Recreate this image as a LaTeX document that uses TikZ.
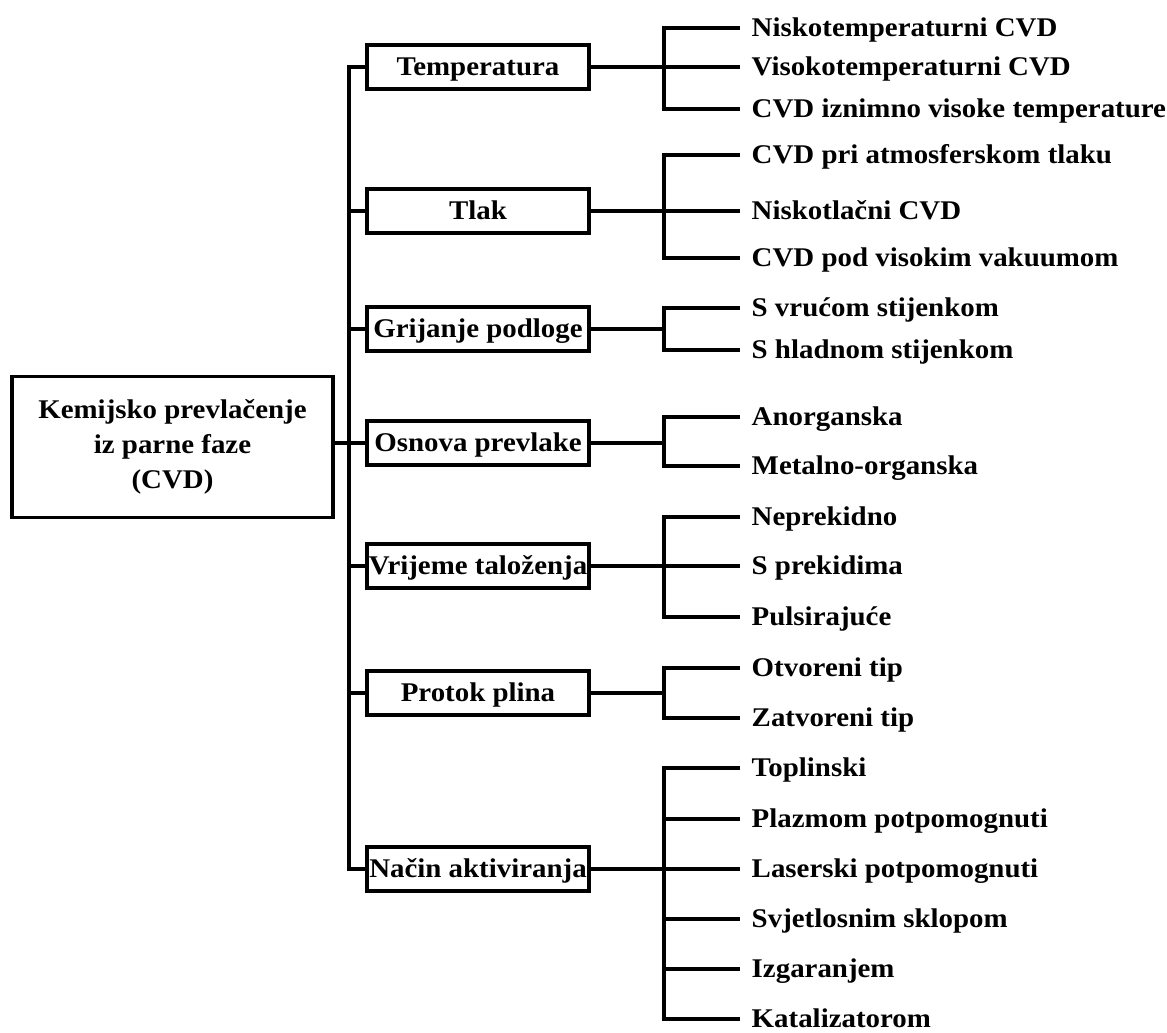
\documentclass[tikz,border=0pt]{standalone}
\usepackage{fontspec}
\setmainfont{Liberation Serif}[FakeStretch=1.07]
\newcommand{\cvdfont}{\fontsize{20.25}{26}\selectfont\bfseries}
\begin{document}
\begin{tikzpicture}[x=0.75pt,y=-0.75pt,line width=2.6pt,line join=miter,
    root/.style={draw, rectangle, minimum width=240.75pt, minimum height=105.75pt, align=center, font=\cvdfont},
    cat/.style={draw, rectangle, minimum width=166.5pt, minimum height=33pt, inner xsep=0pt, font=\cvdfont, text height=15.2pt, text depth=3pt},
    leaf/.style={anchor=west, inner xsep=7.5pt, inner ysep=0pt, font=\cvdfont, text height=15.2pt, text depth=3pt}]
    \useasboundingbox (0,0) rectangle (1167,1032);

    \node[root] (root) at (172.5,447) {Kemijsko prevlačenje\\iz parne faze\\(CVD)};

    \node[cat] (temp) at (478,67) {Temperatura};
    \node[cat] (tlak) at (478,211) {Tlak};
    \node[cat] (grij) at (478,329) {Grijanje podloge};
    \node[cat] (osn) at (478,443) {Osnova prevlake};
    \node[cat] (vrij) at (478,566) {Vrijeme taloženja};
    \node[cat] (prot) at (478,693) {Protok plina};
    \node[cat] (nac) at (478,869) {Način aktiviranja};

    \coordinate (tr) at (349,0);
    \coordinate (br) at (664,0);

    % trunk
    \draw (temp.west) -- (temp.west -| tr) -- (nac.west -| tr) -- (nac.west);
    \draw (osn.west -| root.east) -- (osn.west);
    \draw (tlak.west -| tr) -- (tlak.west);
    \draw (grij.west -| tr) -- (grij.west);
    \draw (vrij.west -| tr) -- (vrij.west);
    \draw (prot.west -| tr) -- (prot.west);

    % temperatura
    \node[leaf] (te1) at (740,28) {Niskotemperaturni CVD};
    \node[leaf] (te2) at (740,67) {Visokotemperaturni CVD};
    \node[leaf] (te3) at (740,109) {CVD iznimno visoke temperature};
    \draw (temp.east) -- (te2.west);
    \draw (te1.west) -- (te1.west -| br) -- (te3.west -| br) -- (te3.west);

    % tlak
    \node[leaf] (tl1) at (740,155) {CVD pri atmosferskom tlaku};
    \node[leaf] (tl2) at (740,211) {Niskotlačni CVD};
    \node[leaf] (tl3) at (740,258) {CVD pod visokim vakuumom};
    \draw (tlak.east) -- (tl2.west);
    \draw (tl1.west) -- (tl1.west -| br) -- (tl3.west -| br) -- (tl3.west);

    % grijanje
    \node[leaf] (gr1) at (740,308) {S vrućom stijenkom};
    \node[leaf] (gr2) at (740,350) {S hladnom stijenkom};
    \draw (grij.east) -- (grij.east -| br);
    \draw (gr1.west) -- (gr1.west -| br) -- (gr2.west -| br) -- (gr2.west);

    % osnova
    \node[leaf] (os1) at (740,417) {Anorganska};
    \node[leaf] (os2) at (740,466) {Metalno-organska};
    \draw (osn.east) -- (osn.east -| br);
    \draw (os1.west) -- (os1.west -| br) -- (os2.west -| br) -- (os2.west);

    % vrijeme
    \node[leaf] (vr1) at (740,517) {Neprekidno};
    \node[leaf] (vr2) at (740,566) {S prekidima};
    \node[leaf] (vr3) at (740,617) {Pulsirajuće};
    \draw (vrij.east) -- (vr2.west);
    \draw (vr1.west) -- (vr1.west -| br) -- (vr3.west -| br) -- (vr3.west);

    % protok
    \node[leaf] (pr1) at (740,668) {Otvoreni tip};
    \node[leaf] (pr2) at (740,718) {Zatvoreni tip};
    \draw (prot.east) -- (prot.east -| br);
    \draw (pr1.west) -- (pr1.west -| br) -- (pr2.west -| br) -- (pr2.west);

    % nacin
    \node[leaf] (na1) at (740,768) {Toplinski};
    \node[leaf] (na2) at (740,819) {Plazmom potpomognuti};
    \node[leaf] (na3) at (740,869) {Laserski potpomognuti};
    \node[leaf] (na4) at (740,919) {Svjetlosnim sklopom};
    \node[leaf] (na5) at (740,969) {Izgaranjem};
    \node[leaf] (na6) at (740,1019) {Katalizatorom};
    \draw (nac.east) -- (na3.west);
    \draw (na1.west) -- (na1.west -| br) -- (na6.west -| br) -- (na6.west);
    \draw (na2.west -| br) -- (na2.west);
    \draw (na4.west -| br) -- (na4.west);
    \draw (na5.west -| br) -- (na5.west);
\end{tikzpicture}
\end{document}
